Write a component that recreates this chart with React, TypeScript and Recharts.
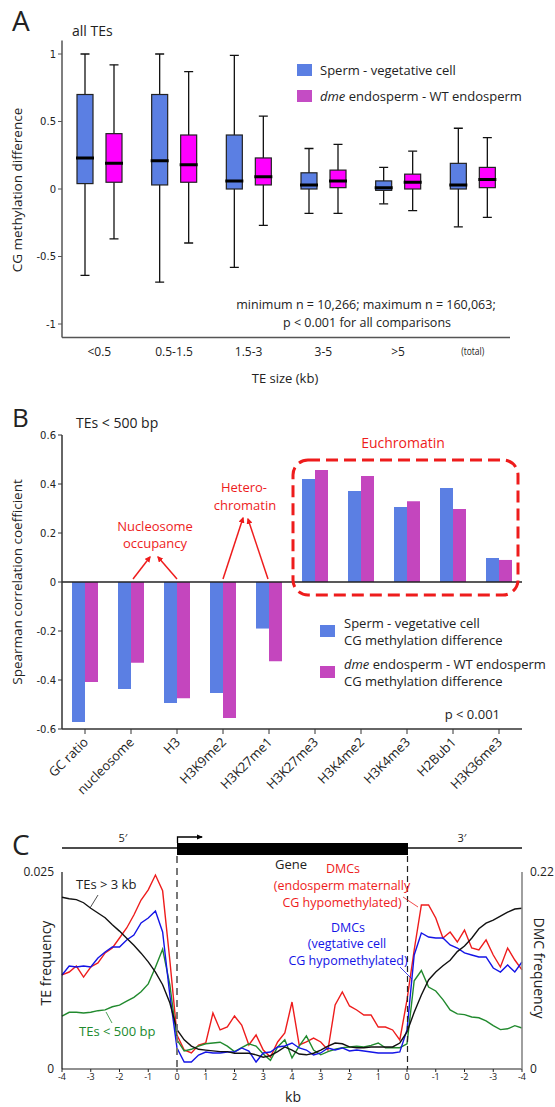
import React from "react";
import { ComposedChart, BarChart, LineChart, Bar, Line, XAxis, YAxis, ReferenceLine } from "recharts";

// ---- panel A: CG methylation difference by TE size ----
const sizeCats = ["<0.5", "0.5-1.5", "1.5-3", "3-5", ">5", "(total)"];
const spermMin = [-0.64, -0.69, -0.58, -0.18, -0.11, -0.28];
const spermQ1 = [0.04, 0.03, 0.0, 0.0, -0.01, 0.0];
const spermMed = [0.23, 0.21, 0.06, 0.03, 0.01, 0.03];
const spermQ3 = [0.7, 0.7, 0.4, 0.12, 0.06, 0.19];
const spermMax = [1.0, 1.0, 0.99, 0.3, 0.16, 0.45];
const dmeMin = [-0.37, -0.4, -0.27, -0.18, -0.16, -0.21];
const dmeQ1 = [0.05, 0.05, 0.03, 0.01, 0.0, 0.01];
const dmeMed = [0.19, 0.18, 0.09, 0.06, 0.05, 0.07];
const dmeQ3 = [0.41, 0.4, 0.23, 0.14, 0.11, 0.16];
const dmeMax = [0.92, 0.87, 0.54, 0.33, 0.28, 0.38];

// ---- panel B: spearman correlation, TEs < 500 bp ----
const marks = ["GC ratio", "nucleosome", "H3", "H3K9me2", "H3K27me1", "H3K27me3", "H3K4me2", "H3K4me3", "H2Bub1", "H3K36me3"];
const spermRho = [-0.571, -0.437, -0.494, -0.453, -0.19, 0.42, 0.371, 0.306, 0.384, 0.098];
const dmeRho = [-0.408, -0.33, -0.474, -0.555, -0.323, 0.457, 0.433, 0.33, 0.298, 0.09];

// ---- panel C: metagene profile (position 0..16 = 5' -4kb .. gene .. 3' -4kb) ----
const kbPos = [
  0, 0.25, 0.5, 0.75, 1, 1.25, 1.5, 1.75, 2, 2.25, 2.5, 2.75, 3, 3.25, 3.5, 3.75, 4,
  4.25, 4.5, 4.75, 5, 5.25, 5.5, 5.75, 6, 6.25, 6.5, 6.75, 7, 7.25, 7.5, 7.75, 8,
  8.25, 8.5, 8.75, 9, 9.25, 9.5, 9.75, 10, 10.25, 10.5, 10.75, 11, 11.25, 11.5, 11.75, 12,
  12.25, 12.5, 12.75, 13, 13.25, 13.5, 13.75, 14, 14.25, 14.5, 14.75, 15, 15.25, 15.5, 15.75, 16,
];
const te3kb = [
  0.0218, 0.0216, 0.0215, 0.0211, 0.0204, 0.0198, 0.0192, 0.0183, 0.0175, 0.0166, 0.0157, 0.0147, 0.0136, 0.0123, 0.0107, 0.0084, 0.005,
  0.0037, 0.0029, 0.0025, 0.0024, 0.0023, 0.0022, 0.0022, 0.002, 0.002, 0.002, 0.0018, 0.0015, 0.0017, 0.0022, 0.0028, 0.0024,
  0.0019, 0.0018, 0.002, 0.0024, 0.0029, 0.0033, 0.0032, 0.0028, 0.0027, 0.0027, 0.0028, 0.0028, 0.0028, 0.0028, 0.0033, 0.0047,
  0.0072, 0.0094, 0.0113, 0.0123, 0.0131, 0.0138, 0.0149, 0.0156, 0.0166, 0.0178, 0.0185, 0.0189, 0.0194, 0.0199, 0.0203, 0.0204,
];
const te500bp = [
  0.0067, 0.0072, 0.0072, 0.0071, 0.0072, 0.0074, 0.0075, 0.0079, 0.0081, 0.0086, 0.0091, 0.0098, 0.0108, 0.0129, 0.0152, 0.0107, 0.0037,
  0.0023, 0.0025, 0.0029, 0.0032, 0.0033, 0.0034, 0.0029, 0.0022, 0.0027, 0.0032, 0.0029, 0.0019, 0.0011, 0.0028, 0.0037, 0.0014,
  0.0029, 0.0042, 0.0024, 0.0018, 0.0022, 0.0025, 0.0027, 0.0028, 0.0029, 0.0028, 0.003, 0.0033, 0.0027, 0.0027, 0.0027, 0.0032,
  0.0112, 0.0125, 0.0104, 0.0099, 0.0088, 0.0075, 0.007, 0.0069, 0.0066, 0.0065, 0.0061, 0.0055, 0.005, 0.0051, 0.0055, 0.0052,
];
const dmcEndo = [
  0.105, 0.1083, 0.115, 0.1027, 0.1139, 0.1184, 0.1296, 0.1351, 0.1463, 0.1575, 0.172, 0.1887, 0.2, 0.2166, 0.199, 0.1217, 0.038,
  0.0212, 0.0179, 0.0268, 0.029, 0.0625, 0.0436, 0.0469, 0.0592, 0.0491, 0.0268, 0.038, 0.0212, 0.0134, 0.0302, 0.0402, 0.0748,
  0.0268, 0.0302, 0.0346, 0.0302, 0.0212, 0.0715, 0.086, 0.0704, 0.0659, 0.0603, 0.0603, 0.0469, 0.0469, 0.0436, 0.0324, 0.0771,
  0.1329, 0.1832, 0.1832, 0.1686, 0.1463, 0.153, 0.1418, 0.1552, 0.1351, 0.1329, 0.1441, 0.1273, 0.1139, 0.1351, 0.1217, 0.1106,
];
const dmcVeg = [
  0.105, 0.115, 0.1139, 0.115, 0.1139, 0.124, 0.1307, 0.1362, 0.1362, 0.1441, 0.1496, 0.1631, 0.1686, 0.1765, 0.153, 0.0826, 0.0235,
  0.0078, 0.0078, 0.0156, 0.019, 0.0179, 0.0179, 0.019, 0.019, 0.0235, 0.0201, 0.0078, 0.0179, 0.019, 0.0246, 0.0257, 0.029,
  0.0235, 0.0212, 0.0156, 0.0179, 0.0235, 0.0212, 0.0235, 0.0201, 0.0212, 0.0201, 0.019, 0.0179, 0.0179, 0.0179, 0.019, 0.0436,
  0.1273, 0.1519, 0.1474, 0.1463, 0.1463, 0.1385, 0.1351, 0.1296, 0.1273, 0.1251, 0.1251, 0.1128, 0.1083, 0.1161, 0.1083, 0.1195,
];
const kbTicks = [0, 1, 2, 3, 4, 5, 6, 7, 8, 9, 10, 11, 12, 13, 14, 15, 16];
const kbLabels = ["-4", "-3", "-2", "-1", "0", "1", "2", "3", "4", "3", "2", "1", "0", "-1", "-2", "-3", "-4"];

const FONT = "'Open Sans', 'Noto Sans', sans-serif";
const NUMFONT = "'DejaVu Sans', sans-serif";
const BLUE = "#5b7fe3";
const MAGENTA = "#ff00ff";
const PURPLE = "#c446be";
const RED = "#ee1c1c";
const DBLUE = "#1414e6";
const GREEN = "#218a2e";

const boxData = sizeCats.map((cat, i) => ({
  cat,
  sMin: spermMin[i], sQ1: spermQ1[i], sMed: spermMed[i], sQ3: spermQ3[i], sMax: spermMax[i],
  dMin: dmeMin[i], dQ1: dmeQ1[i], dMed: dmeMed[i], dQ3: dmeQ3[i], dMax: dmeMax[i],
}));
const rhoData = marks.map((mark, i) => ({ mark, sperm: spermRho[i], dme: dmeRho[i] }));
const kbData = kbPos.map((p, i) => ({ p, te3kb: te3kb[i], te500bp: te500bp[i], endo: dmcEndo[i], veg: dmcVeg[i] }));

function BoxShape(props: any) {
  const { x, y, width, height, payload, k, color } = props;
  const lo = payload[k + "Min"];
  const hi = payload[k + "Max"];
  const top = Math.min(y, y + height);
  const bot = Math.max(y, y + height);
  const py = (v: number) => bot - ((v - lo) / (hi - lo)) * (bot - top);
  const cx = x + width / 2;
  const q1 = py(payload[k + "Q1"]);
  const q3 = py(payload[k + "Q3"]);
  const med = py(payload[k + "Med"]);
  return (
    <g>
      <line x1={cx} x2={cx} y1={top} y2={bot} stroke="#111" strokeWidth={1.3} />
      <line x1={cx - 4.5} x2={cx + 4.5} y1={top} y2={top} stroke="#111" strokeWidth={1.3} />
      <line x1={cx - 4.5} x2={cx + 4.5} y1={bot} y2={bot} stroke="#111" strokeWidth={1.3} />
      <rect x={x} y={q3} width={width} height={Math.max(q1 - q3, 1)} fill={color} stroke="#222" strokeWidth={1.2} />
      <line x1={x - 1} x2={x + width + 1} y1={med} y2={med} stroke="#000" strokeWidth={3} />
    </g>
  );
}

function SizeTick({ x, y, payload }: any) {
  const small = payload.value === "(total)";
  return (
    <text x={x} y={y + 10} textAnchor="middle" fontFamily={FONT} fontSize={small ? 10 : 12} fill="#222"
      transform={small ? `translate(${x} 0) scale(0.85 1) translate(${-x} 0)` : undefined}>
      {payload.value}
    </text>
  );
}

function MarkTick({ x, y, payload }: any) {
  return (
    <text x={x + 4} y={y + 7} textAnchor="end" fontFamily={FONT} fontSize={13} fill="#222"
      transform={`rotate(-45 ${x + 4} ${y + 7})`}>
      {payload.value}
    </text>
  );
}

export default function App() {
  return (
    <div style={{ position: "absolute", left: 0, top: 0, width: 555, height: 1107, background: "#fff", overflow: "hidden" }}>
      {/* A */}
      <div style={{ position: "absolute", left: 0, top: 0 }}>
        <ComposedChart width={555} height={390} data={boxData} margin={{ top: 40.5, right: 45, bottom: 22.5, left: 0 }} barGap={13}>
          <XAxis dataKey="cat" height={30} axisLine={{ stroke: "#555", strokeWidth: 1.5 }} tickLine={false} tick={<SizeTick />} interval={0} />
          <YAxis width={62} domain={[-1.1, 1.1]} ticks={[-1, -0.5, 0, 0.5, 1]} allowDataOverflow
            axisLine={{ stroke: "#555", strokeWidth: 1.5 }} tickLine={{ stroke: "#555" }} tickSize={4}
            tick={{ fontSize: 10, fontFamily: NUMFONT, fill: "#222" }} />
          <Bar dataKey={(d: any) => [d.sMin, d.sMax]} barSize={16} isAnimationActive={false}
            shape={(p: any) => <BoxShape {...p} k="s" color={BLUE} />} />
          <Bar dataKey={(d: any) => [d.dMin, d.dMax]} barSize={16} isAnimationActive={false}
            shape={(p: any) => <BoxShape {...p} k="d" color={MAGENTA} />} />
        </ComposedChart>
      </div>

      {/* B */}
      <div style={{ position: "absolute", left: 0, top: 380 }}>
        <BarChart width={555} height={420} data={rhoData} margin={{ top: 55, right: 33, bottom: 11, left: 0 }} barGap={0}>
          <XAxis dataKey="mark" height={60} interval={0} axisLine={{ stroke: "#333", strokeWidth: 1.5 }}
            tickLine={{ stroke: "#333" }} tickSize={5} tick={<MarkTick />} />
          <YAxis width={62} domain={[-0.6, 0.6]} ticks={[-0.6, -0.4, -0.2, 0, 0.2, 0.4, 0.6]}
            axisLine={{ stroke: "#333", strokeWidth: 1.5 }} tickLine={{ stroke: "#333" }} tickSize={4}
            tick={{ fontSize: 10, fontFamily: NUMFONT, fill: "#222" }} />
          <Bar dataKey="sperm" fill={BLUE} barSize={13} isAnimationActive={false} />
          <Bar dataKey="dme" fill={PURPLE} barSize={13} isAnimationActive={false} />
          <ReferenceLine y={0} stroke="#222" strokeWidth={1.5} />
        </BarChart>
      </div>

      {/* C */}
      <div style={{ position: "absolute", left: 0, top: 850 }}>
        <LineChart width={555} height={257} data={kbData} margin={{ top: 22, right: 0, bottom: 13, left: 0 }}>
          <XAxis dataKey="p" type="number" domain={[0, 16]} ticks={kbTicks} interval={0} height={25}
            tickFormatter={(v: number) => kbLabels[kbTicks.indexOf(v)]}
            axisLine={{ stroke: "#222", strokeWidth: 1.2 }} tickLine={{ stroke: "#222" }} tickSize={3}
            tick={{ fontSize: 9, fontFamily: FONT, fill: "#222" }} />
          <YAxis yAxisId="te" width={62} domain={[0, 0.025]} ticks={[0, 0.025]} tickLine={false}
            axisLine={{ stroke: "#111", strokeWidth: 1.2 }} tick={{ fontSize: 12, fontFamily: FONT, fill: "#222" }} />
          <YAxis yAxisId="dmc" orientation="right" width={33} domain={[0, 0.22]} ticks={[0, 0.22]} tickLine={false}
            axisLine={{ stroke: "#888", strokeWidth: 1.6 }} tick={{ fontSize: 12, fontFamily: FONT, fill: "#222" }} />
          <Line yAxisId="dmc" dataKey="endo" stroke={RED} strokeWidth={1.4} dot={false} isAnimationActive={false} />
          <Line yAxisId="te" dataKey="te500bp" stroke={GREEN} strokeWidth={1.4} dot={false} isAnimationActive={false} />
          <Line yAxisId="dmc" dataKey="veg" stroke={DBLUE} strokeWidth={1.4} dot={false} isAnimationActive={false} />
          <Line yAxisId="te" dataKey="te3kb" stroke="#111" strokeWidth={1.4} dot={false} isAnimationActive={false} />
        </LineChart>
      </div>

      {/* annotations */}
      <svg width={555} height={1107} style={{ position: "absolute", left: 0, top: 0, pointerEvents: "none" }} fontFamily={FONT}>
        <defs>
          <marker id="arrRed" viewBox="0 0 10 10" refX="8" refY="5" markerWidth="4" markerHeight="4" orient="auto">
            <path d="M0,0 L10,5 L0,10 z" fill={RED} />
          </marker>
          <marker id="arrBlk" viewBox="0 0 10 10" refX="8" refY="5" markerWidth="5" markerHeight="5" orient="auto">
            <path d="M0,1 L10,5 L0,9 z" fill="#000" />
          </marker>
        </defs>

        {/* A */}
        <text x={12} y={31} fontSize={28} fill="#222">A</text>
        <text x={72} y={36} fontSize={14} fill="#222">all TEs</text>
        <text transform="translate(22 190) rotate(-90)" textAnchor="middle" fontSize={13.5} fill="#222">CG methylation difference</text>
        <rect x={297} y={64} width={15} height={12} fill={BLUE} />
        <text x={320} y={75} fontSize={13} fill="#222">Sperm - vegetative cell</text>
        <rect x={297} y={90} width={15} height={12} fill="#c44cc4" />
        <text x={320} y={101} fontSize={13} fill="#222"><tspan fontStyle="italic">dme</tspan> endosperm - WT endosperm</text>
        <text x={366} y={309} textAnchor="middle" fontSize={12.5} fill="#222">minimum n = 10,266; maximum n = 160,063;</text>
        <text x={367} y={327} textAnchor="middle" fontSize={12.5} fill="#222">p &lt; 0.001 for all comparisons</text>
        <text x={285} y={383} textAnchor="middle" fontSize={13} fill="#222">TE size (kb)</text>

        {/* B */}
        <text x={12} y={427} fontSize={26} fill="#222">B</text>
        <text x={76} y={428} fontSize={14} fill="#222">TEs &lt; 500 bp</text>
        <text transform="translate(22 582) rotate(-90)" textAnchor="middle" fontSize={13.5} fill="#222">Spearman correlation coefficient</text>
        <text x={403} y={448} textAnchor="middle" fontSize={14} fill={RED}>Euchromatin</text>
        <rect x={293} y={460} width={225} height={135} rx={15} fill="none" stroke={RED} strokeWidth={3} strokeDasharray="12 6" />
        <text x={155} y={531} textAnchor="middle" fontSize={13} fill={RED}>Nucleosome</text>
        <text x={155} y={548} textAnchor="middle" fontSize={13} fill={RED}>occupancy</text>
        <line x1={133} y1={579} x2={150} y2={557} stroke={RED} strokeWidth={1.5} markerEnd="url(#arrRed)" />
        <line x1={177} y1={579} x2={158} y2={557} stroke={RED} strokeWidth={1.5} markerEnd="url(#arrRed)" />
        <text x={244} y={492} textAnchor="middle" fontSize={13} fill={RED}>Hetero-</text>
        <text x={245} y={510} textAnchor="middle" fontSize={13} fill={RED}>chromatin</text>
        <line x1={223} y1={579} x2={243} y2={518} stroke={RED} strokeWidth={1.5} markerEnd="url(#arrRed)" />
        <line x1={268} y1={579} x2={248} y2={519} stroke={RED} strokeWidth={1.5} markerEnd="url(#arrRed)" />
        <rect x={320} y={625} width={15} height={12} fill={BLUE} />
        <text x={344} y={628} fontSize={13} fill="#222">Sperm - vegetative cell</text>
        <text x={344} y={645} fontSize={13} fill="#222">CG methylation difference</text>
        <rect x={320} y={666} width={15} height={12} fill={PURPLE} />
        <text x={344} y={669} fontSize={13} fill="#222"><tspan fontStyle="italic">dme</tspan> endosperm - WT endosperm</text>
        <text x={344} y={686} fontSize={13} fill="#222">CG methylation difference</text>
        <text x={500} y={719} textAnchor="end" fontSize={13} fill="#222">p &lt; 0.001</text>

        {/* C */}
        <text x={12} y={855} fontSize={28} fill="#222">C</text>
        <line x1={62} y1={848} x2={177} y2={848} stroke="#111" strokeWidth={1.5} />
        <rect x={177} y={843} width={231} height={12} fill="#000" />
        <line x1={408} y1={848} x2={522} y2={848} stroke="#111" strokeWidth={1.5} />
        <path d="M177.5,843 V837 H202" fill="none" stroke="#000" strokeWidth={1.3} markerEnd="url(#arrBlk)" />
        <text x={123} y={842} textAnchor="middle" fontSize={11} fill="#222">5′</text>
        <text x={462} y={842} textAnchor="middle" fontSize={11} fill="#222">3′</text>
        <line x1={177} y1={856} x2={177} y2={1069} stroke="#777" strokeWidth={2} strokeDasharray="7 5" />
        <line x1={407.5} y1={856} x2={407.5} y2={1069} stroke="#222" strokeWidth={1.2} strokeDasharray="6 4" />
        <text x={291} y={869} textAnchor="middle" fontSize={13} fill="#222">Gene</text>
        <text x={343} y={873} textAnchor="middle" fontSize={12.5} fill={RED}>DMCs</text>
        <text x={342} y={890} textAnchor="middle" fontSize={12.5} fill={RED}>(endosperm maternally</text>
        <text x={342} y={907} textAnchor="middle" fontSize={12.5} fill={RED}>CG hypomethylated)</text>
        <line x1={403} y1={897} x2={418} y2={907} stroke={RED} strokeWidth={0.8} />
        <text x={348} y={932} textAnchor="middle" fontSize={12.5} fill={DBLUE}>DMCs</text>
        <text x={347} y={948} textAnchor="middle" fontSize={12.5} fill={DBLUE}>(vegtative cell</text>
        <text x={348} y={965} textAnchor="middle" fontSize={12.5} fill={DBLUE}>CG hypomethylated)</text>
        <line x1={400} y1={967} x2={412} y2={979} stroke={DBLUE} strokeWidth={0.8} />
        <text x={76} y={889} fontSize={13} fill="#222">TEs &gt; 3 kb</text>
        <line x1={90} y1={908} x2={98} y2={895} stroke="#222" strokeWidth={0.8} />
        <text x={79} y={1036} fontSize={13} fill={GREEN}>TEs &lt; 500 bp</text>
        <line x1={106} y1={1012} x2={112} y2={1023} stroke={GREEN} strokeWidth={0.8} />
        <text transform="translate(51 963) rotate(-90)" textAnchor="middle" fontSize={14} fill="#222">TE frequency</text>
        <text transform="translate(534 968) rotate(90)" textAnchor="middle" fontSize={14} fill="#222">DMC frequency</text>
        <text x={293} y={1102} textAnchor="middle" fontSize={14} fill="#222">kb</text>
      </svg>
    </div>
  );
}
